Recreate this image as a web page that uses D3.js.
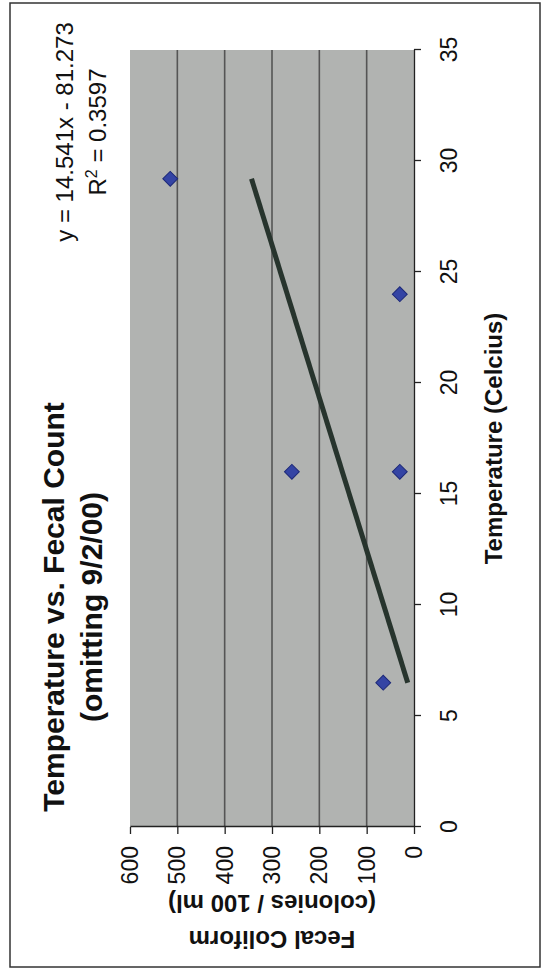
<!DOCTYPE html>
<html>
<head>
<meta charset="utf-8">
<script src="https://cdn.jsdelivr.net/npm/d3@7"></script>
<style>
  html, body { margin: 0; padding: 0; background: #ffffff; }
  svg { display: block; }
  text { font-family: "Liberation Sans", Arial, sans-serif; fill: #111; }
</style>
</head>
<body>
<script>
// Water samples: temperature (°C) against fecal coliform count (colonies / 100 ml)
const temperature = [6.5, 16, 16, 24, 29.2];
const fecalCount = [65, 258, 30, 30, 515];

// Axis ticks
const tempTicks = [0, 5, 10, 15, 20, 25, 30, 35];
const countTicks = [0, 100, 200, 300, 400, 500, 600];

// Linear trendline as reported on the chart
const trendSlope = 14.541;
const trendIntercept = -81.273;
const trendR2 = "0.3597";

const titleLines = ["Temperature vs. Fecal Count", "(omitting 9/2/00)"];
const xTitle = "Temperature (Celcius)";
const yTitleLines = ["Fecal Coliform", "(colonies / 100 ml)"];

const W = 544, H = 970;

const svg = d3.select("body").append("svg")
  .attr("width", W)
  .attr("height", H);

// The chart is laid out in landscape (H wide, W tall) and turned a quarter turn
// counter-clockwise onto the portrait page.
const g = svg.append("g").attr("transform", `translate(0,${H}) rotate(-90)`);

const plot = { left: 143, right: 920, top: 130, bottom: 414 };

const x = d3.scaleLinear().domain([0, 35]).range([plot.left, plot.right]);
const y = d3.scaleLinear().domain([0, 600]).range([plot.bottom, plot.top]);

// chart area frame
g.append("rect")
  .attr("x", 3).attr("y", 10)
  .attr("width", 964).attr("height", 530)
  .attr("fill", "none")
  .attr("stroke", "#333")
  .attr("stroke-width", 1.5);

// plot area
g.append("rect")
  .attr("x", plot.left).attr("y", plot.top)
  .attr("width", plot.right - plot.left)
  .attr("height", plot.bottom - plot.top)
  .attr("fill", "#b1b3b1");

// horizontal major gridlines
g.append("g").selectAll("line")
  .data(countTicks.filter(v => v > 0 && v < 600))
  .join("line")
  .attr("x1", x(0)).attr("x2", x(35))
  .attr("y1", d => y(d)).attr("y2", d => y(d))
  .attr("stroke", "#555")
  .attr("stroke-width", 1.6);

// temperature axis
const xAxis = g.append("g")
  .attr("transform", `translate(0,${plot.bottom})`)
  .call(d3.axisBottom(x).tickValues(tempTicks).tickSize(7).tickSizeOuter(0).tickPadding(20));

// count axis
const yAxis = g.append("g")
  .attr("transform", `translate(${plot.left},0)`)
  .call(d3.axisLeft(y).tickValues(countTicks).tickSize(7).tickSizeOuter(0).tickPadding(12));

[xAxis, yAxis].forEach(ax => {
  ax.select(".domain").attr("stroke", "#222").attr("stroke-width", 1.3);
  ax.selectAll(".tick line").attr("stroke", "#222").attr("stroke-width", 1.3);
  ax.selectAll(".tick text")
    .attr("font-size", 23)
    .attr("fill", "#111")
    .style("font-family", "'Liberation Sans', Arial, sans-serif");
});

// trendline from the reported equation over the sampled temperature range
const tExtent = d3.extent(temperature);
g.append("line")
  .attr("x1", x(tExtent[0]))
  .attr("y1", y(trendSlope * tExtent[0] + trendIntercept))
  .attr("x2", x(tExtent[1]))
  .attr("y2", y(trendSlope * tExtent[1] + trendIntercept))
  .attr("stroke", "#27342d")
  .attr("stroke-width", 5);

// data points (diamonds)
const diamond = d3.symbol(d3.symbolSquare, 110);
g.append("g").selectAll("path")
  .data(temperature.map((t, i) => [t, fecalCount[i]]))
  .join("path")
  .attr("d", diamond)
  .attr("transform", d => `translate(${x(d[0])},${y(d[1])}) rotate(45)`)
  .attr("fill", "#3444a4")
  .attr("stroke", "#1c2878")
  .attr("stroke-width", 1);

// chart title
const titleCx = 363;
g.append("text")
  .attr("x", titleCx).attr("y", 64)
  .attr("text-anchor", "middle")
  .attr("font-size", 30).attr("font-weight", "bold")
  .text(titleLines[0]);
g.append("text")
  .attr("x", titleCx).attr("y", 102)
  .attr("text-anchor", "middle")
  .attr("font-size", 30).attr("font-weight", "bold")
  .text(titleLines[1]);

// trendline equation
const eqCx = 838;
g.append("text")
  .attr("x", eqCx).attr("y", 73)
  .attr("text-anchor", "middle")
  .attr("font-size", 24)
  .text(`y = ${trendSlope}x - ${Math.abs(trendIntercept)}`);
const r2 = g.append("text")
  .attr("x", eqCx).attr("y", 106)
  .attr("text-anchor", "middle")
  .attr("font-size", 24);
r2.append("tspan").text("R");
r2.append("tspan").attr("dy", -9).attr("font-size", 16).text("2");
r2.append("tspan").attr("dy", 9).text(` = ${trendR2}`);

// temperature axis title
g.append("text")
  .attr("x", (plot.left + plot.right) / 2).attr("y", 502)
  .attr("text-anchor", "middle")
  .attr("font-size", 24).attr("font-weight", "bold")
  .text(xTitle);

// count axis title (two lines, rotated)
const yMid = (plot.top + plot.bottom) / 2;
g.append("text")
  .attr("transform", `translate(39,${yMid}) rotate(-90)`)
  .attr("text-anchor", "middle")
  .attr("font-size", 24).attr("font-weight", "bold")
  .text(yTitleLines[0]);
g.append("text")
  .attr("transform", `translate(75,${yMid}) rotate(-90)`)
  .attr("text-anchor", "middle")
  .attr("font-size", 24).attr("font-weight", "bold")
  .text(yTitleLines[1]);
</script>
</body>
</html>
